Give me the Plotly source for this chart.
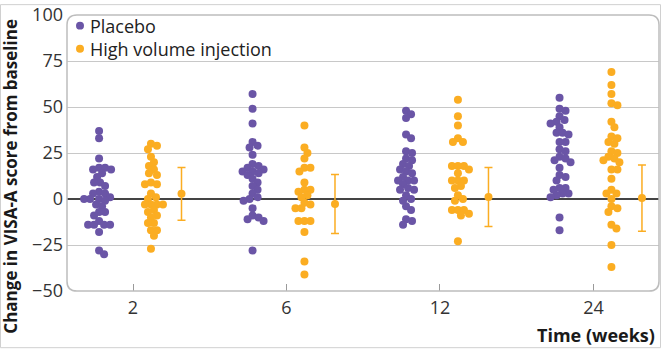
import plotly.graph_objects as go
import numpy as np

# ---------------- data ----------------
weeks = ["2", "6", "12", "24"]

placebo_wk2 = [37, 33, 22, 17, 17, 16, 16, 14, 12, 9, 9, 7, 4, 3, 3, 1, 0, 0, 0, -1,
               -3, -4, -7, -7, -9, -12, -14, -14, -14, -14, -18, -28, -30]
placebo_wk6 = [57, 49, 41, 31, 29, 28, 24, 19, 18, 17, 16, 15, 15, 14, 13, 11, 9, 7, 5,
               3, 1, 0, -1, -5, -9, -10, -11, -12, -28]
placebo_wk12 = [48, 46, 44, 35, 33, 26, 25, 22, 21, 19, 18, 16, 15, 14, 12, 10, 10, 10,
                8, 6, 5, 5, 2, 0, -1, -4, -6, -11, -12, -14]
placebo_wk24 = [55, 49, 48, 45, 43, 42, 41, 39, 36, 36, 35, 31, 31, 27, 26, 23, 22, 21,
                20, 17, 13, 12, 10, 6, 6, 5, 3, 3, 2, 1, -10, -17]

hvi_wk2 = [30, 29, 27, 23, 20, 18, 16, 14, 13, 9, 8, 8, 3, 1, 0, -3, -3, -3, -3, -6,
           -7, -9, -10, -13, -13, -17, -17, -20, -27]
hvi_wk6 = [40, 28, 25, 22, 17, 17, 15, 9, 5, 5, 4, 2, 1, -2, -3, -5, -5, -12, -12, -12,
           -18, -34, -41]
hvi_wk12 = [54, 45, 40, 33, 31, 31, 18, 18, 18, 16, 14, 10, 10, 10, 7, 6, 2, 0, -1, -6,
            -6, -6, -8, -9, -23]
hvi_wk24 = [69, 62, 57, 52, 51, 42, 39, 34, 33, 31, 30, 26, 25, 23, 22, 21, 20, 16, 16,
            11, 5, 3, 3, 0, -4, -5, -7, -14, -16, -25, -37]

diff_mean = [2.8, -2.7, 1.1, 0.5]
diff_ci = [14.3, 16.0, 16.0, 18.0]

y_ticks = [-50, -25, 0, 25, 50, 75, 100]

series_names = ["Placebo", "High volume injection"]
placebo = [placebo_wk2, placebo_wk6, placebo_wk12, placebo_wk24]
hvi = [hvi_wk2, hvi_wk6, hvi_wk12, hvi_wk24]

# ---------------- style ----------------
PURPLE = "#6a55a6"
ORANGE = "#fbad22"
FONT = "Open Sans"
W, H = 661, 349
ML, MR, MT, MB = 67, 2, 11, 58
PW, PH = W - ML - MR, H - MT - MB
X_RANGE = [-0.43, 3.427]
Y_RANGE = [-50, 100]
PX_X = PW / (X_RANGE[1] - X_RANGE[0])
PX_Y = PH / (Y_RANGE[1] - Y_RANGE[0])

OFF_PLACEBO, OFF_HVI, OFF_DIFF = -0.221, 0.117, 0.316


def px2paper(px, py):
    return (px - ML) / PW, (MT + PH - py) / PH


def swarm(values, center, d=6.0):
    """Simple beeswarm: offsets (data units) that avoid overlap in pixel space."""
    order = np.argsort(values)[::-1]
    placed = []
    xs = np.zeros(len(values))
    for i in order:
        y = values[i] * PX_Y
        best = None
        for step in range(0, 60):
            for s in ([0] if step == 0 else [1, -1]):
                off = s * step * 1.0
                ok = all((off - px) ** 2 + (y - py) ** 2 >= d * d for px, py in placed)
                if ok:
                    best = off
                    break
            if best is not None:
                break
        placed.append((best, y))
        xs[i] = center + best / PX_X
    return xs


fig = go.Figure()

for vals_list, name, color, off in [
        (placebo, series_names[0], PURPLE, OFF_PLACEBO),
        (hvi, series_names[1], ORANGE, OFF_HVI)]:
    xs_all, ys_all = [], []
    for k, vals in enumerate(vals_list):
        xs_all.extend(swarm(vals, k + off))
        ys_all.extend(vals)
    fig.add_trace(go.Scatter(
        x=xs_all, y=ys_all, mode="markers", name=name, showlegend=False,
        marker=dict(color=color, size=8, line=dict(width=0)),
    ))

fig.add_trace(go.Scatter(
    x=[k + OFF_DIFF for k in range(len(weeks))], y=diff_mean, mode="markers",
    marker=dict(color=ORANGE, size=8),
    error_y=dict(type="data", array=diff_ci, color=ORANGE, thickness=1.5, width=4),
    showlegend=False,
))

# rounded plot frame
r = 10
rx, ry = r / PW, r / PH
path = (f"M {rx},1 L {1-rx},1 Q 1,1 1,{1-ry} L 1,{ry} Q 1,0 {1-rx},0 "
        f"L {rx},0 Q 0,0 0,{ry} L 0,{1-ry} Q 0,1 {rx},1 Z")
fig.add_shape(type="path", path=path, xref="paper", yref="paper",
              line=dict(color="#bdbdbd", width=1.5), layer="above")
# thin outer image border
fig.add_shape(type="rect", xref="paper", yref="paper",
              x0=(0.5 - ML) / PW, x1=(W - 0.5 - ML) / PW,
              y0=-(MB - 0.5) / PH, y1=1 + (MT - 0.5) / PH,
              line=dict(color="#d0d0d0", width=1))

# legend: one two-line text block plus coloured dots
LEG_FS = 18
leg_center = 33.5
line_gap = 1.3 * LEG_FS
for (color, ly) in zip([PURPLE, ORANGE],
                       [leg_center - line_gap / 2, leg_center + line_gap / 2]):
    cx, cy = px2paper(80, ly)
    fig.add_shape(type="circle", xref="paper", yref="paper",
                  x0=cx - 4 / PW, x1=cx + 4 / PW, y0=cy - 4 / PH, y1=cy + 4 / PH,
                  fillcolor=color, line=dict(width=0))
tx, ty = px2paper(88, leg_center)
fig.add_annotation(text="<br>".join(series_names), xref="paper", yref="paper",
                   x=tx, y=ty, xanchor="left", yanchor="middle", align="left",
                   showarrow=False,
                   font=dict(family=FONT, size=LEG_FS, color="#222222"))

ax, ay = px2paper(11, 175)
fig.add_annotation(text="<b>Change in VISA-A score from baseline</b>",
                   xref="paper", yref="paper", x=ax, y=ay, textangle=-90,
                   showarrow=False, xanchor="center", yanchor="middle",
                   font=dict(family=FONT, size=17, color="#1a1a1a"))
tx, ty = px2paper(657, 336)
fig.add_annotation(text="<b>Time (weeks)</b>", xref="paper", yref="paper",
                   x=tx, y=ty, showarrow=False, xanchor="right", yanchor="middle",
                   font=dict(family=FONT, size=18, color="#1a1a1a"))

fig.update_layout(
    width=W, height=H,
    margin=dict(l=ML, r=MR, t=MT, b=MB),
    paper_bgcolor="white", plot_bgcolor="white",
    font=dict(family=FONT, size=18, color="#333333"),
    showlegend=False,
    xaxis=dict(range=X_RANGE, tickmode="array", tickvals=list(range(len(weeks))),
               ticktext=weeks, showgrid=False, zeroline=False, showline=False,
               ticks="inside", ticklen=7, tickcolor="#9a9a9a", tickwidth=1,
               ticklabelstandoff=4, tickfont=dict(size=18, color="#333333")),
    yaxis=dict(range=Y_RANGE, tickmode="array", tickvals=y_ticks,
               showgrid=True, gridcolor="#c8c8c8", gridwidth=1.3,
               zeroline=True, zerolinecolor="#444444", zerolinewidth=1.5,
               showline=False, ticks="", ticklabelstandoff=3,
               ticklabeloverflow="allow",
               tickfont=dict(size=18, color="#333333")),
)

fig.write_html("out.html")
